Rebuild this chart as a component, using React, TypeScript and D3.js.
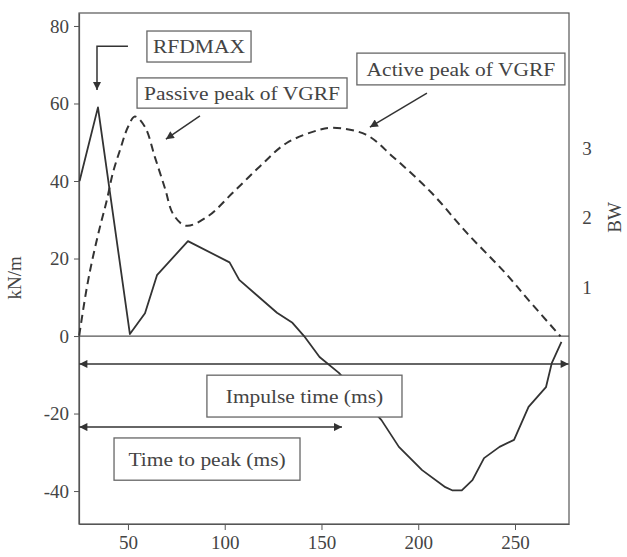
import { useEffect, useRef } from "react";
import * as d3 from "d3";

// solid curve: RFD (kN/m) over time (ms)
const rfdTime = [25, 34.5, 51, 58.8, 65, 81, 102.5, 107.5, 127, 135, 141, 149, 159, 181, 190, 202, 214, 217.5, 222.5, 228, 234, 242, 249.5, 257, 266, 269, 274];
const rfdValues = [40, 59, 0.5, 5.9, 15.7, 24.5, 19, 14.5, 6, 3.4, 0, -5.4, -9.5, -21.7, -28.6, -34.6, -39, -39.8, -39.8, -37.2, -31.5, -28.6, -26.8, -18.3, -13.2, -7, -1.5];

// dashed curve: VGRF in body weights
const vgrfTime = [24.8, 28.8, 31.9, 35.5, 39.1, 42.2, 45.9, 50, 53.6, 58.8, 64, 69.1, 73.5, 80, 91, 104, 118, 132, 149, 156, 173, 187, 207, 225, 245, 257, 273.5];
const vgrfValues = [0.3, 1.0, 1.43, 1.86, 2.25, 2.64, 2.97, 3.3, 3.45, 3.3, 2.86, 2.42, 2.04, 1.88, 2.01, 2.35, 2.73, 3.07, 3.26, 3.29, 3.19, 2.87, 2.35, 1.78, 1.2, 0.81, 0.29];

const xTicks = [50, 100, 150, 200, 250];
const yTicks = [80, 60, 40, 20, 0, -20, -40];
const bwTicks = [1, 2, 3];

const W = 627;
const H = 557;
const FONT = "'Liberation Serif', 'DejaVu Serif', serif";
const INK = "#333";
const TXT = "#444";
const STRETCH = 1.13; // scanned lettering is a bit wider than Times

const App = () => {
  const svgRef = useRef(null);

  useEffect(() => {
    const svg = d3.select(svgRef.current);
    svg.selectAll("*").remove();

    const x = d3.scaleLinear().domain([24.7, 277.9]).range([79, 569]);
    const y = d3.scaleLinear().domain([-48.5, 83.35]).range([524, 13]);
    const yBW = d3.scaleLinear().domain([-2.41, 4.94]).range([524, 13]);

    const widen = (sel) =>
      sel.each(function () {
        const w = this.getComputedTextLength();
        d3.select(this)
          .attr("textLength", w * STRETCH)
          .attr("lengthAdjust", "spacingAndGlyphs");
      });

    const defs = svg.append("defs");
    defs
      .append("marker")
      .attr("id", "head")
      .attr("viewBox", "0 0 10 10")
      .attr("refX", 10)
      .attr("refY", 5)
      .attr("markerWidth", 10)
      .attr("markerHeight", 8)
      .attr("markerUnits", "userSpaceOnUse")
      .attr("orient", "auto-start-reverse")
      .append("path")
      .attr("d", "M0,0 L10,5 L0,10 z")
      .attr("fill", INK);

    // frame
    svg
      .append("rect")
      .attr("x", x.range()[0])
      .attr("y", y.range()[1])
      .attr("width", x.range()[1] - x.range()[0])
      .attr("height", y.range()[0] - y.range()[1])
      .attr("fill", "none")
      .attr("stroke", "#555")
      .attr("stroke-width", 1.2);

    // zero line
    svg
      .append("line")
      .attr("x1", x.range()[0])
      .attr("x2", x.range()[1])
      .attr("y1", y(0))
      .attr("y2", y(0))
      .attr("stroke", "#555")
      .attr("stroke-width", 1.2);

    // axes
    const gx = svg
      .append("g")
      .attr("transform", `translate(0,${y.range()[0]})`)
      .call(d3.axisBottom(x).tickValues(xTicks).tickFormat((d) => String(d)).tickSize(6).tickSizeOuter(0).tickPadding(6));
    const gy = svg
      .append("g")
      .attr("transform", `translate(${x.range()[0]},0)`)
      .call(d3.axisLeft(y).tickValues(yTicks).tickFormat((d) => String(d)).tickSize(5).tickSizeOuter(0).tickPadding(5));
    [gx, gy].forEach((g) => {
      g.select(".domain").attr("stroke", "#555").attr("stroke-width", 1.2);
      g.selectAll("line").attr("stroke", "#555");
      g.selectAll("text")
        .attr("fill", TXT)
        .style("font-family", FONT)
        .style("font-size", "19px");
    });

    // right BW labels
    svg
      .append("g")
      .selectAll("text")
      .data(bwTicks)
      .enter()
      .append("text")
      .attr("x", 587)
      .attr("y", (d) => yBW(d))
      .attr("dy", "0.35em")
      .attr("text-anchor", "middle")
      .attr("fill", TXT)
      .style("font-family", FONT)
      .style("font-size", "19px")
      .text((d) => d);

    // axis titles
    svg
      .append("text")
      .attr("transform", `translate(21,${y(15)}) rotate(-90)`)
      .attr("text-anchor", "middle")
      .attr("fill", TXT)
      .style("font-family", FONT)
      .style("font-size", "19px")
      .text("kN/m");
    svg
      .append("text")
      .attr("transform", `translate(621,${yBW(2)}) rotate(-90)`)
      .attr("text-anchor", "middle")
      .attr("fill", TXT)
      .style("font-family", FONT)
      .style("font-size", "19px")
      .text("BW");

    // curves
    const solid = d3
      .line<number>()
      .x((d, i) => x(rfdTime[i]))
      .y((d) => y(d));
    svg
      .append("path")
      .datum(rfdValues)
      .attr("fill", "none")
      .attr("stroke", INK)
      .attr("stroke-width", 1.8)
      .attr("stroke-linejoin", "round")
      .attr("d", solid);

    const dashed = d3
      .line<number>()
      .x((d, i) => x(vgrfTime[i]))
      .y((d) => yBW(d))
      .curve(d3.curveCatmullRom.alpha(0.5));
    svg
      .append("path")
      .datum(vgrfValues)
      .attr("fill", "none")
      .attr("stroke", INK)
      .attr("stroke-width", 2)
      .attr("stroke-dasharray", "8,5")
      .attr("d", dashed);

    // annotations (data coordinates)
    const arrow = (pts, both = false) => {
      svg
        .append("path")
        .attr("d", d3.line()(pts.map(([t, v]) => [x(t), y(v)])))
        .attr("fill", "none")
        .attr("stroke", INK)
        .attr("stroke-width", 1.5)
        .attr("marker-end", "url(#head)")
        .attr("marker-start", both ? "url(#head)" : null);
    };
    const box = (t0, t1, v0, v1, label) => {
      const g = svg.append("g");
      g.append("rect")
        .attr("x", x(t0))
        .attr("y", y(v0))
        .attr("width", x(t1) - x(t0))
        .attr("height", y(v1) - y(v0))
        .attr("fill", "#fff")
        .attr("stroke", "#666")
        .attr("stroke-width", 1.3);
      g.append("text")
        .attr("x", (x(t0) + x(t1)) / 2)
        .attr("y", (y(v0) + y(v1)) / 2)
        .attr("dy", "0.35em")
        .attr("text-anchor", "middle")
        .attr("fill", TXT)
        .style("font-family", FONT)
        .style("font-size", "19px")
        .text(label)
        .call(widen);
    };

    arrow([[24.9, -7.2], [277.7, -7.2]], true);
    arrow([[24.9, -23.5], [160.6, -23.5]], true);
    arrow([[50, 74.8], [34, 74.8], [34, 63.5]]);
    arrow([[87.2, 56.8], [69.6, 50.8]]);
    arrow([[204.5, 62.7], [175, 53.9]]);

    box(59.8, 113.6, 78.7, 70.7, "RFDMAX");
    box(54.7, 163.2, 66.6, 58.8, "Passive peak of VGRF");
    box(168.3, 275.8, 73, 64.8, "Active peak of VGRF");
    box(90.8, 191.6, -10.1, -20.9, "Impulse time (ms)");
    box(42.8, 138.9, -26.3, -37.2, "Time to peak (ms)");
  }, []);

  return (
    <svg
      ref={svgRef}
      width={W}
      height={H}
      style={{ position: "absolute", left: 0, top: 0, background: "#fff" }}
    />
  );
};

export default App;
